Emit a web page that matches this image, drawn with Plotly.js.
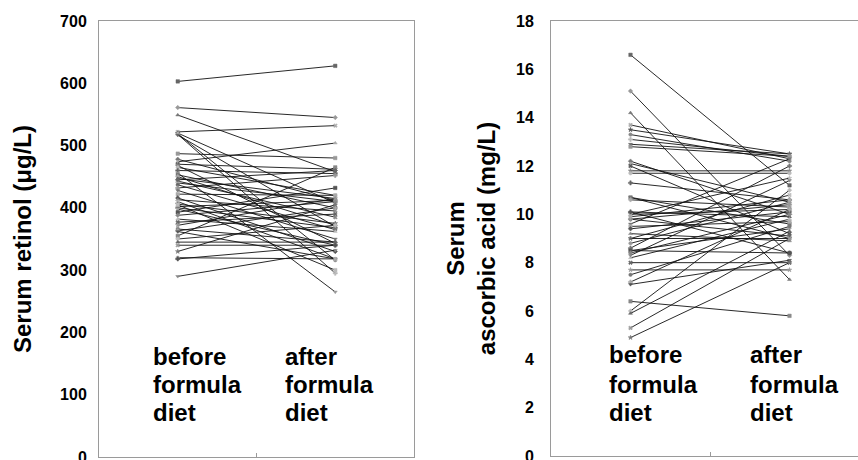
<!DOCTYPE html>
<html>
<head>
<meta charset="utf-8">
<script src="https://cdn.plot.ly/plotly-3.0.1.min.js"></script>
<style>html,body{margin:0;padding:0;background:#fff;}#chart{width:858px;height:460px;}</style>
</head>
<body>
<div id="chart"></div>
<script>
// Serum retinol (µg/L): each subject before and after formula diet
const retinolBefore = [603,561,549,522,520,519,518,517,487,478,474,470,468,465,460,456,453,450,447,443,440,437,432,428,422,416,413,410,406,402,400,398,393,388,382,377,372,366,363,362,355,350,345,340,330,320,318,290,405,445];
const retinolAfter  = [628,545,458,532,408,316,295,370,480,412,504,462,343,420,455,265,400,372,415,385,410,365,452,350,420,330,395,318,375,412,368,340,432,410,362,390,415,345,400,318,465,372,345,340,405,318,340,332,300,460];

// Serum ascorbic acid (mg/L): each subject before and after formula diet
const ascorbicBefore = [16.6,15.1,14.2,13.7,13.5,13.3,13.1,12.9,12.8,12.2,12.1,12.0,11.8,11.7,11.3,10.7,10.7,10.6,10.1,10.0,10.0,9.8,9.8,9.6,9.5,9.4,9.2,9.0,9.0,8.8,8.6,8.5,8.5,8.4,8.2,8.0,7.7,7.5,7.2,7.1,6.4,6.0,5.9,5.3,4.9,9.9,10.1,8.3];
const ascorbicAfter  = [11.2,8.3,7.3,12.3,12.5,12.2,12.4,12.5,12.4,10.0,10.5,9.2,11.8,11.7,10.6,9.0,9.6,10.3,9.9,10.2,11.5,9.1,10.4,12.3,9.7,10.1,8.9,10.8,9.0,10.5,12.0,9.4,8.4,10.0,9.8,8.0,7.7,9.5,10.2,8.1,5.8,11.0,9.3,9.0,8.0,10.6,8.4,11.4];

const phaseX = [0.5, 1.5];
const groupLabels = [["before","formula","diet"],["after","formula","diet"]];
const retinolTicks = [0,100,200,300,400,500,600,700];
const ascorbicTicks = [0,2,4,6,8,10,12,14,16,18];

const symbols = ['square','diamond','triangle-up','x','star','circle','cross','triangle-down'];
const grays = ['#666','#999','#777','#aaa','#555','#888','#bbb'];

const traces = [];
function addPairs(before, after, xa, ya) {
  before.forEach((b, i) => {
    traces.push({
      x: phaseX, y: [b, after[i]], xaxis: xa, yaxis: ya,
      mode: 'lines+markers', type: 'scatter', showlegend: false, hoverinfo: 'y',
      line: {color: '#111', width: 0.9},
      marker: {symbol: symbols[i % symbols.length], size: 3.5, color: grays[i % grays.length], line: {width: 0.5, color: grays[i % grays.length]}}
    });
  });
}
addPairs(retinolBefore, retinolAfter, 'x', 'y');
addPairs(ascorbicBefore, ascorbicAfter, 'x2', 'y2');

const W = 858, H = 460;
const fontFam = 'Liberation Sans, Arial, Helvetica, sans-serif';
const frameColor = '#9a9a9a';

const annotations = [];
function addLabels(xref, yref, xs, ys) {
  groupLabels.forEach((lines, g) => {
    lines.forEach((t, k) => {
      annotations.push({
        text: '<b>' + t + '</b>', xref: xref, yref: yref, x: xs[g], y: ys[k],
        xanchor: 'left', yanchor: 'middle', showarrow: false,
        font: {family: fontFam, size: 24, color: '#000'}
      });
    });
  });
}
addLabels('x', 'y', [0.33, 1.17], [162, 116, 71]);
addLabels('x2', 'y2', [0.350, 1.239], [4.18, 2.94, 1.78]);

const axisX = {
  showgrid: false, zeroline: false, showline: true, linecolor: frameColor, linewidth: 1,
  mirror: true, ticks: 'inside', ticklen: 4, tickcolor: frameColor, tickvals: [1], showticklabels: false,
  fixedrange: true
};

const layout = {
  width: W, height: H,
  margin: {l: 0, r: 0, t: 0, b: 0},
  paper_bgcolor: '#fff', plot_bgcolor: '#fff',
  font: {family: fontFam, color: '#000'},
  showlegend: false,
  xaxis: Object.assign({}, axisX, {domain: [99/W, 414/W], range: [0, 2]}),
  yaxis: {
    domain: [1 - 457/H, 1 - 21/H], range: [0, 700], tickvals: retinolTicks,
    showgrid: false, zeroline: false, showline: true, linecolor: frameColor, linewidth: 1, mirror: true,
    ticks: 'outside', ticklen: 8, tickcolor: 'rgba(0,0,0,0)', ticklabeloverflow: 'allow',
    tickfont: {family: fontFam, size: 16, color: '#000', weight: 'bold'},
    title: {text: '<b>Serum retinol (μg/L)</b>', font: {family: fontFam, size: 24, color: '#000'}, standoff: 21}
  },
  xaxis2: Object.assign({}, axisX, {domain: [551/W, 1], range: [0, (W - 551)/159], anchor: 'y2'}),
  yaxis2: {
    domain: [1 - 456/H, 1 - 21/H], range: [0, 18], tickvals: ascorbicTicks, anchor: 'x2',
    showgrid: false, zeroline: false, showline: true, linecolor: frameColor, linewidth: 1, mirror: false,
    ticks: 'outside', ticklen: 13, tickcolor: 'rgba(0,0,0,0)', ticklabeloverflow: 'allow',
    tickfont: {family: fontFam, size: 16, color: '#000', weight: 'bold'},
    title: {text: '<b>Serum<br>ascorbic acid (mg/L)</b>', font: {family: fontFam, size: 24, color: '#000'}, standoff: 13}
  },
  annotations: annotations
};

Plotly.newPlot('chart', traces, layout, {displayModeBar: false, staticPlot: true});
</script>
</body>
</html>
